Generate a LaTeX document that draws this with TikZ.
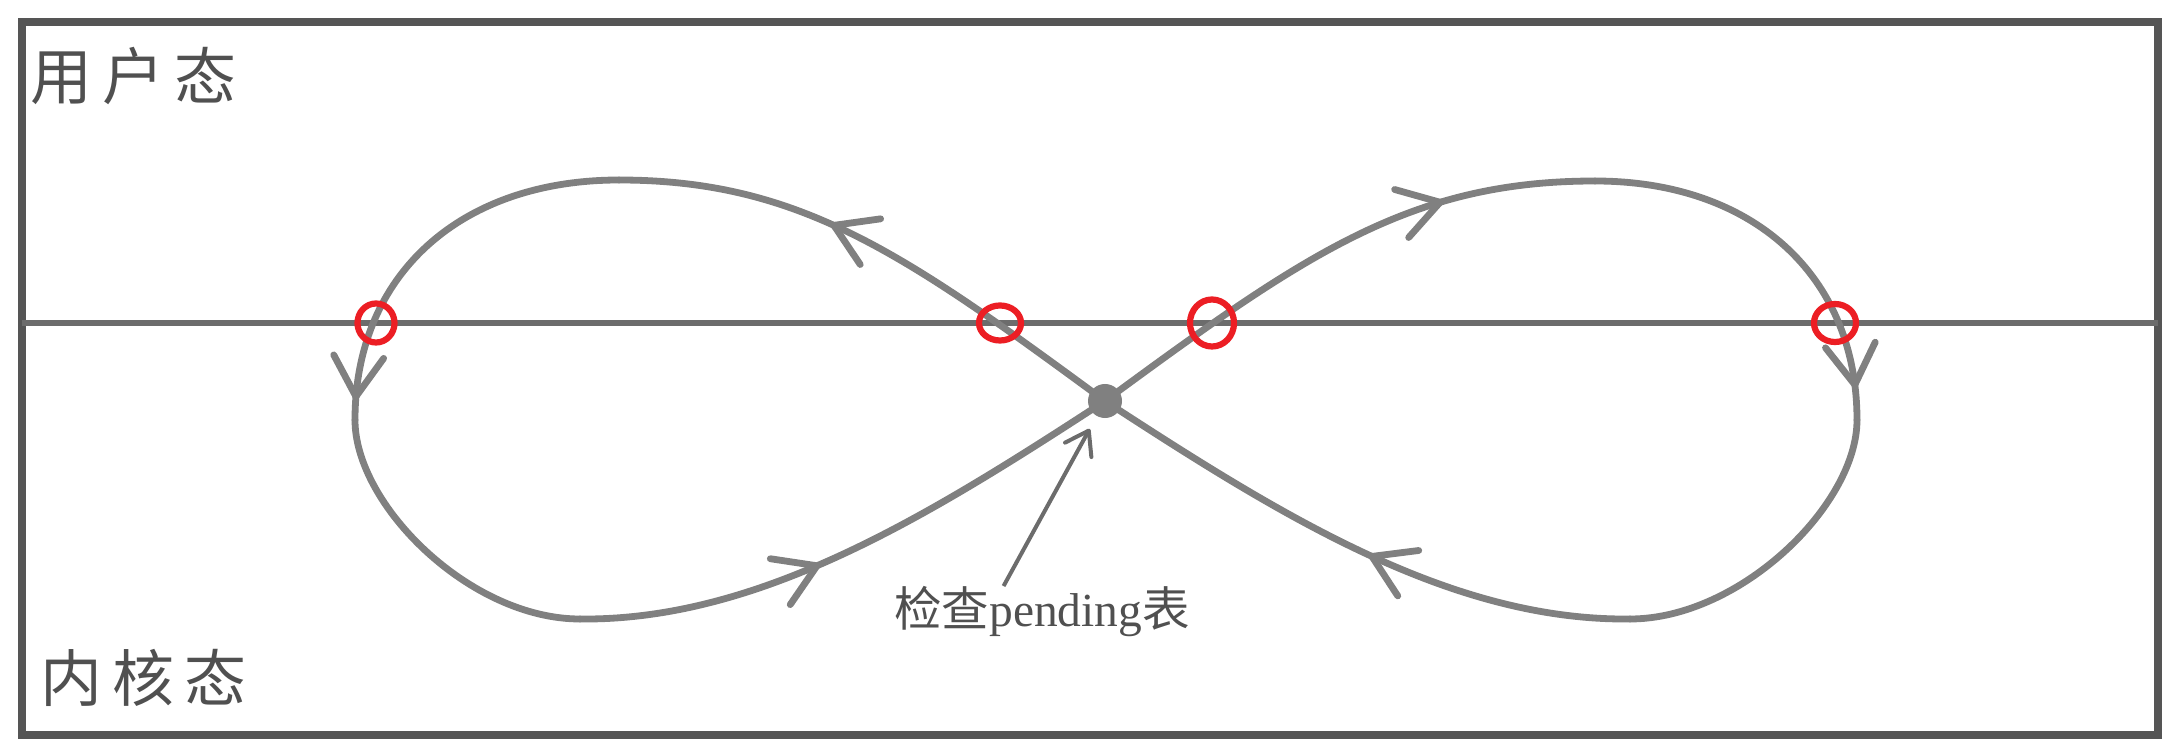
\documentclass[tikz,border=0pt]{standalone}
\usepackage{fontspec}
\setmainfont{Liberation Serif}
\newfontfamily\cjk{Noto Sans CJK SC}
\usetikzlibrary{arrows.meta, decorations.markings, shapes.geometric}
\definecolor{loopgray}{RGB}{128,128,128}
\definecolor{linegray}{RGB}{108,108,108}
\definecolor{framegray}{RGB}{85,85,85}
\definecolor{textgray}{RGB}{80,80,80}
\definecolor{ringred}{RGB}{236,30,36}
\tikzset{
	statelabel/.style ={
		anchor=west,
		inner sep=0mm,
		text=textgray,
		font={\cjk\fontsize{17.6pt}{20pt}\selectfont}
	},
	framebox/.style={
		draw=framegray,
		line width=0.075cm,
	},
	divider/.style={
		draw=linegray,
		line width=0.06cm,
	},
	loopline/.style={
		draw=loopgray,
		line width=0.068cm,
		line cap=round,
	},
	flowarrow/.style={
		postaction={decorate},
		decoration={markings,
			mark=at position #1 with {\arrow{Straight Barb[length=0.4cm, width=0.5cm, round]}}
		}
	},
	ring/.style={
		ellipse,
		draw=ringred,
		line width=0.062cm,
		inner sep=0mm,
	},
	blob/.style={
		circle,
		fill=loopgray,
		inner sep=0mm,
		minimum size=0.34cm,
	},
	pointer/.style={
		draw=linegray,
		line width=0.04cm,
		-{Straight Barb[length=0.22cm, width=0.3cm, round]},
		shorten >=0.14cm,
	}
}

\begin{document}
\begin{tikzpicture}[x=0.01cm, y=-0.01cm]
\useasboundingbox (0,0) rectangle (2184,746);

\draw[framebox] (22,22) rectangle (2158,735);

\node(user)[statelabel] at (30,76) {用\hspace{0.1cm}户\hspace{0.1cm}态};
\node(kernel)[statelabel] at (40,678) {内\hspace{0.1cm}核\hspace{0.1cm}态};

\coordinate(dl) at (22,323);
\coordinate(dr) at (2158,323);
\draw[divider] (dl) -- (dr);

\node(pend)[blob] at (1105,401) {};

% left loop
\coordinate(tl) at (619,180);
\coordinate(lft) at (355,420);
\coordinate(bl) at (580,619);
\draw[loopline, flowarrow=0.6] (pend.center) .. controls (905,254) and (800,180) .. (tl);
\draw[loopline, flowarrow=0.95] (tl) .. controls (460,180) and (355,275) .. (lft);
\draw[loopline] (lft) .. controls (355,505) and (470,619) .. (bl);
\draw[loopline, flowarrow=0.43] (bl) .. controls (760,621) and (930,515) .. (pend.center);

% right loop
\coordinate(tr) at (1595,181);
\coordinate(rgt) at (1857,420);
\coordinate(br) at (1630,619);
\draw[loopline, flowarrow=0.72] (pend.center) .. controls (1305,254) and (1410,181) .. (tr);
\draw[loopline, flowarrow=0.92] (tr) .. controls (1752,181) and (1857,275) .. (rgt);
\draw[loopline] (rgt) .. controls (1857,505) and (1740,619) .. (br);
\draw[loopline, flowarrow=0.47] (br) .. controls (1450,621) and (1280,515) .. (pend.center);

\foreach \nm/\xx/\ww/\hh in {r1/376/0.37/0.39, r2/1000/0.42/0.35, r3/1212/0.44/0.47, r4/1835/0.42/0.38} {
	\node(\nm)[ring, minimum width=\ww cm, minimum height=\hh cm] at (\xx,323) {};
};

\node(check)[inner sep=0mm, text=textgray, font={\fontsize{13.5pt}{16pt}\selectfont}] at (1042,612) {{\cjk 检查}pending{\cjk 表}};
\draw[pointer] (check.146) -- (pend);

\end{tikzpicture}
\end{document}
